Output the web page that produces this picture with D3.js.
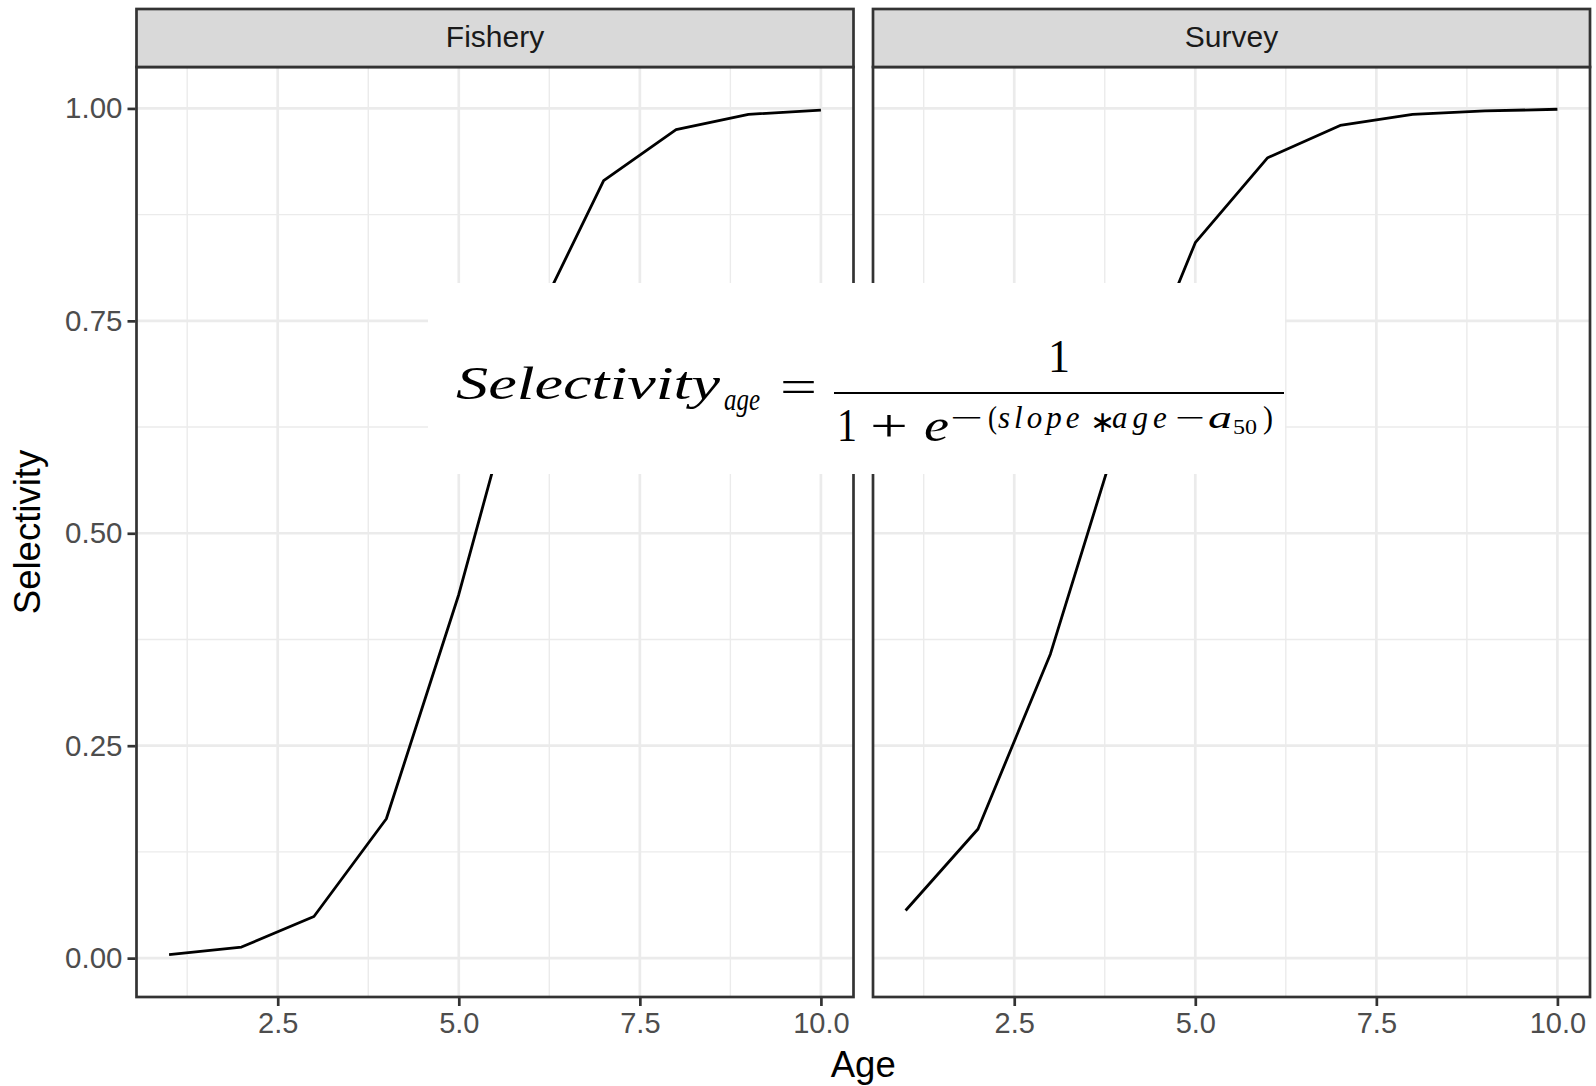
<!DOCTYPE html>
<html>
<head>
<meta charset="utf-8">
<script src="https://cdn.jsdelivr.net/npm/d3@7"></script>
<style>
  html, body { margin: 0; padding: 0; background: #ffffff; }
  svg { display: block; }
</style>
</head>
<body>
<svg id="chart" width="1596" height="1086"></svg>
<script>
// ---------------- data ----------------
const panelNames = ["Fishery", "Survey"];
const ages = [1, 2, 3, 4, 5, 6, 7, 8, 9, 10];
const fisheryValues = [0.004, 0.013, 0.049, 0.164, 0.428, 0.740, 0.915, 0.975, 0.993, 0.998];
const surveyValues  = [0.056, 0.152, 0.358, 0.634, 0.842, 0.942, 0.980, 0.993, 0.997, 0.999];
const xMajorTicks = [2.5, 5.0, 7.5, 10.0];
const xMinorTicks = [1.25, 3.75, 6.25, 8.75];
const xTickLabels = ["2.5", "5.0", "7.5", "10.0"];
const yMajorTicks = [0, 0.25, 0.5, 0.75, 1.0];
const yMinorTicks = [0.125, 0.375, 0.625, 0.875];
const yTickLabels = ["0.00", "0.25", "0.50", "0.75", "1.00"];
const xTitle = "Age";
const yTitle = "Selectivity";

// ---------------- layout ----------------
const svg = d3.select("#chart");
const sansFont = "'Liberation Sans', Arial, Helvetica, sans-serif";
const serifFont = "'Liberation Serif', 'Times New Roman', serif";
const panelLefts = [136.5, 873];
const panelW = 717;
const panelTop = 67, panelBottom = 997;
const stripTop = 9;
const borderCol = "#333333";
const gridCol = "#EBEBEB";

// ggplot-like 5% expansion
const xExt = d3.extent(ages);
const xPad = (xExt[1] - xExt[0]) * 0.05;
const allVals = fisheryValues.concat(surveyValues);
const yExt = d3.extent(allVals);
const yPad = (yExt[1] - yExt[0]) * 0.05;

const x = d3.scaleLinear().domain([xExt[0] - xPad, xExt[1] + xPad]).range([0, panelW]);
const y = d3.scaleLinear().domain([yExt[0] - yPad, yExt[1] + yPad]).range([panelBottom, panelTop]);

const seriesList = [fisheryValues, surveyValues];

panelNames.forEach((name, i) => {
  const g = svg.append("g").attr("transform", `translate(${panelLefts[i]},0)`);

  g.append("rect").attr("x", 0).attr("y", panelTop).attr("width", panelW)
    .attr("height", panelBottom - panelTop).attr("fill", "#fff");

  // minor grid
  g.selectAll(".xminor").data(xMinorTicks).enter().append("line")
    .attr("x1", d => x(d)).attr("x2", d => x(d)).attr("y1", panelTop).attr("y2", panelBottom)
    .attr("stroke", gridCol).attr("stroke-width", 1.4);
  g.selectAll(".yminor").data(yMinorTicks).enter().append("line")
    .attr("x1", 0).attr("x2", panelW).attr("y1", d => y(d)).attr("y2", d => y(d))
    .attr("stroke", gridCol).attr("stroke-width", 1.4);
  // major grid
  g.selectAll(".xmajor").data(xMajorTicks).enter().append("line")
    .attr("x1", d => x(d)).attr("x2", d => x(d)).attr("y1", panelTop).attr("y2", panelBottom)
    .attr("stroke", gridCol).attr("stroke-width", 2.7);
  g.selectAll(".ymajor").data(yMajorTicks).enter().append("line")
    .attr("x1", 0).attr("x2", panelW).attr("y1", d => y(d)).attr("y2", d => y(d))
    .attr("stroke", gridCol).attr("stroke-width", 2.7);

  // data line
  const line = d3.line().x(d => x(d[0])).y(d => y(d[1]));
  g.append("path").datum(ages.map((a, k) => [a, seriesList[i][k]]))
    .attr("d", line).attr("fill", "none").attr("stroke", "#000")
    .attr("stroke-width", 2.8).attr("stroke-linejoin", "round");

  // panel border
  g.append("rect").attr("x", 0).attr("y", panelTop).attr("width", panelW)
    .attr("height", panelBottom - panelTop).attr("fill", "none")
    .attr("stroke", borderCol).attr("stroke-width", 2.7);

  // strip
  g.append("rect").attr("x", 0).attr("y", stripTop).attr("width", panelW)
    .attr("height", panelTop - stripTop).attr("fill", "#D9D9D9")
    .attr("stroke", borderCol).attr("stroke-width", 2.7);
  g.append("text").attr("x", panelW / 2).attr("y", 47).attr("text-anchor", "middle")
    .attr("font-family", sansFont).attr("font-size", 30).attr("fill", "#1A1A1A").text(name);

  // x axis
  const xAxis = d3.axisBottom(x).tickValues(xMajorTicks).tickSize(8).tickPadding(6)
    .tickFormat((d, k) => xTickLabels[k]);
  const xa = g.append("g").attr("transform", `translate(0,${panelBottom + 1})`).call(xAxis);
  xa.select(".domain").remove();
  xa.selectAll(".tick line").attr("stroke", borderCol).attr("stroke-width", 2.7);
  xa.selectAll(".tick text").attr("font-family", sansFont).attr("font-size", 29)
    .attr("fill", "#4D4D4D");

  // y axis (first panel only)
  if (i === 0) {
    const yAxis = d3.axisLeft(y).tickValues(yMajorTicks).tickSize(8).tickPadding(5)
      .tickFormat((d, k) => yTickLabels[k]);
    const ya = g.append("g").attr("transform", `translate(-1,0)`).call(yAxis);
    ya.select(".domain").remove();
    ya.selectAll(".tick line").attr("stroke", borderCol).attr("stroke-width", 2.7);
    ya.selectAll(".tick text").attr("font-family", sansFont).attr("font-size", 29.5)
      .attr("fill", "#4D4D4D");
  }
});

// axis titles
svg.append("text").attr("x", (panelLefts[0] + panelLefts[1] + panelW) / 2).attr("y", 1077)
  .attr("text-anchor", "middle").attr("font-family", sansFont).attr("font-size", 36.5)
  .attr("fill", "#000").text(xTitle);
svg.append("text").attr("transform", `translate(40,${(panelTop + panelBottom) / 2}) rotate(-90)`)
  .attr("text-anchor", "middle").attr("font-family", sansFont).attr("font-size", 36.5)
  .attr("fill", "#000").text(yTitle);

// ---------------- formula overlay ----------------
const fg = svg.append("g");
fg.append("rect").attr("x", 428).attr("y", 283).attr("width", 857).attr("height", 191).attr("fill", "#fff");

const pieces = [
  // [text, x, baseline, size, italic, textLength]
  ["Selectivity", 456, 399, 46, true, 264],
  ["age", 724, 410, 31, true, 36],
  ["=", 780, 402, 46, false, 37],
  ["1", 1048, 372, 46, false, 22],
  ["1", 837, 441, 46, false, 20],
  ["+", 870, 441, 46, false, 38],
  ["e", 924, 441, 46, true, 25],
  ["\u2212", 950, 428, 31, false, 33],
  ["(", 988, 428, 31, false, 9],
  ["\u2212", 1175, 428, 31, false, 30],
  ["a", 1208, 428, 31, true, 24],
  ["50", 1233, 434, 22, false, 24],
  [")", 1263, 428, 31, false, 10]
];
pieces.forEach(p => {
  fg.append("text").attr("x", p[1]).attr("y", p[2])
    .attr("font-family", serifFont).attr("font-size", p[3])
    .attr("font-style", p[4] ? "italic" : "normal")
    .attr("textLength", p[5]).attr("lengthAdjust", "spacingAndGlyphs")
    .attr("fill", "#000").text(p[0]);
});
// "slope∗age" as one text with tspans
const expo = fg.append("text").attr("y", 428).attr("font-family", serifFont)
  .attr("font-size", 31).attr("fill", "#000");
expo.append("tspan").attr("x", 998).attr("font-style", "italic")
  .attr("letter-spacing", 4).text("slope");
expo.append("tspan").attr("x", 1090).attr("dy", 4).attr("font-size", 30).text("\u2217");
expo.append("tspan").attr("x", 1112).attr("dy", -4).attr("font-style", "italic")
  .attr("letter-spacing", 5).text("age");

fg.append("line").attr("x1", 834).attr("x2", 1284).attr("y1", 393).attr("y2", 393)
  .attr("stroke", "#000").attr("stroke-width", 2.2);
</script>
</body>
</html>
